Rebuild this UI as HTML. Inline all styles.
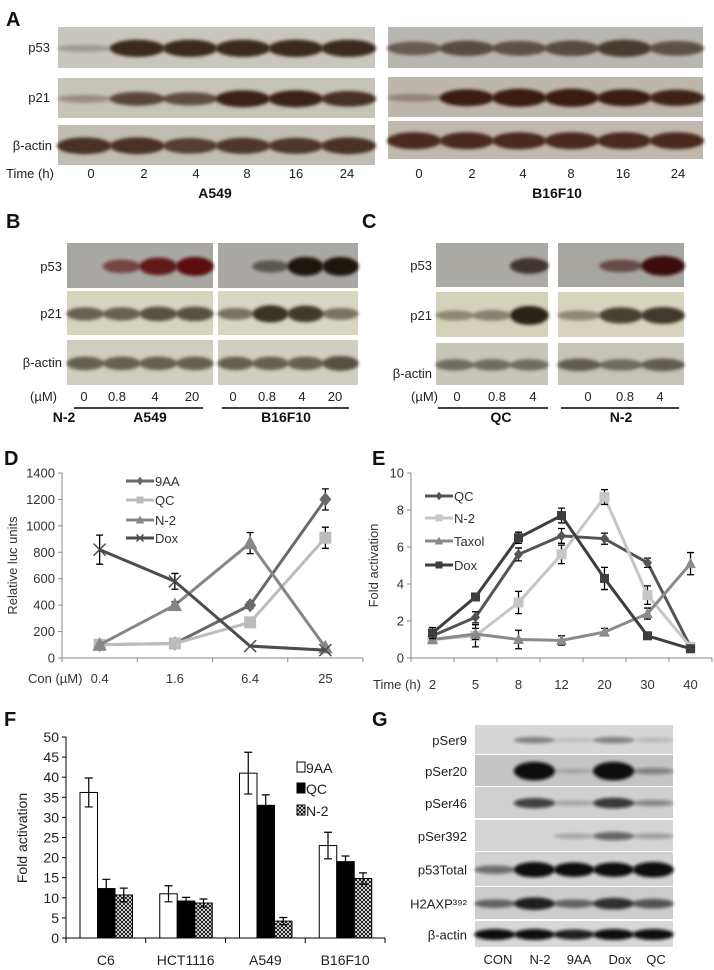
<!DOCTYPE html>
<html><head><meta charset="utf-8"><style>
html,body{margin:0;padding:0;background:#fff;}
svg{display:block;font-family:"Liberation Sans",Arial,sans-serif;}
.lbl{font-size:13px;fill:#222;}
.tk{font-size:13px;fill:#333;}
.big{font-size:20px;font-weight:bold;fill:#111;}
.bold{font-size:14px;font-weight:bold;fill:#111;}
</style></head><body>
<svg id="fig" width="714" height="970" viewBox="0 0 714 970" xmlns="http://www.w3.org/2000/svg">
<defs>
<filter id="blur" x="-20%" y="-50%" width="140%" height="200%"><feGaussianBlur stdDeviation="1.6"/></filter>
<pattern id="hatch" width="4" height="4" patternUnits="userSpaceOnUse"><rect width="4" height="4" fill="#fff"/><path d="M0,0L4,4M4,0L0,4" stroke="#000" stroke-width="0.9"/></pattern>
</defs>
<g id="blots"></g>
<g id="chartD"></g>
<g id="chartE"></g>
<g id="chartF"></g>
</svg>
<script>
// ---------- Chart D data ----------
const dCats = ["0.4","1.6","6.4","25"];
const dNames = ["9AA","QC","N-2","Dox"];
const d9AA = [100,110,400,1200];
const dQC = [100,110,270,910];
const dN2 = [100,400,870,80];
const dDox = [820,580,90,60];
const dErr9AA = [0,0,25,80];
const dErrQC = [0,0,0,80];
const dErrN2 = [0,25,80,0];
const dErrDox = [110,60,0,0];
const dTicks = [0,200,400,600,800,1000,1200,1400];
// ---------- Chart E data ----------
const eCats = ["2","5","8","12","20","30","40"];
const eNames = ["QC","N-2","Taxol","Dox"];
const eQC = [1.2,2.2,5.6,6.6,6.45,5.15,0.6];
const eN2 = [1.0,1.2,3.0,5.6,8.7,3.4,0.6];
const eTaxol = [1.0,1.3,1.0,0.95,1.4,2.4,5.1];
const eDox = [1.35,3.3,6.5,7.7,4.3,1.2,0.5];
const eErrQC = [0.2,0.3,0.35,0.4,0.3,0.25,0.1];
const eErrN2 = [0.2,0.6,0.6,0.5,0.4,0.5,0.1];
const eErrTaxol = [0.2,0.3,0.5,0.25,0.2,0.3,0.6];
const eErrDox = [0.3,0.2,0.3,0.4,0.6,0.1,0.1];
const eTicks = [0,2,4,6,8,10];
// ---------- Chart F data ----------
const fCats = ["C6","HCT1116","A549","B16F10"];
const fNames = ["9AA","QC","N-2"];
const f9AA = [36.2,11,41,23];
const fQC = [12.3,9.2,33,19];
const fN2 = [10.7,8.7,4.2,14.8];
const fErr9AA = [3.6,2,5.2,3.3];
const fErrQC = [2.3,0.9,2.6,1.4];
const fErrN2 = [1.7,1,0.9,1.4];
const fTicks = [0,5,10,15,20,25,30,35,40,45,50];

const NS="http://www.w3.org/2000/svg";
function mk(parent,tag,attrs,text){const e=document.createElementNS(NS,tag);for(const k in attrs)e.setAttribute(k,attrs[k]);if(text!==undefined)e.textContent=text;parent.appendChild(e);return e;}

// ---------- Blots ----------
const B=document.getElementById('blots');
function blot(x,y,w,h,bg,bands,color,name){
  const g=mk(B,'g',{});
  
  
  mk(g,'rect',{x:x,y:y,width:w,height:h,fill:bg});
  const n=bands.length, lw=w/n;
  bands.forEach((v,i)=>{ if(v<=0)return;
    const cx=x+lw*(i+0.5), cy=y+h*0.52;
    mk(g,'ellipse',{cx:cx,cy:cy,rx:lw*0.52,ry:Math.max(2,h*(0.06+0.15*v)),fill:color,opacity:Math.min(1,0.1+0.9*v),filter:'url(#blur)'});
  });
}
function text(x,y,t,cls,anchor,name){const e=mk(B,'text',{x:x,y:y,class:cls||'lbl','text-anchor':anchor||'start'},t);return e;}
// Panel A
text(6,26,'A','big','start','panel-a-letter');
blot(58,27,317,41,'#c9c6bf',[0.2,1,1,1,1,1],'#3a2a1e','a549-p53-blot');
blot(58,78,317,40,'#c6c3b8',[0.25,0.75,0.7,1,1,0.9],'#3a2214','a549-p21-blot');
blot(58,125,317,40,'#c1bdb5',[1,1,0.9,0.95,0.95,1],'#4a3222','a549-actin-blot');
blot(388,27,315,41,'#b8b6b0',[0.7,0.85,0.8,0.85,1,0.8],'#4a3a30','b16-p53-blot');
blot(388,77,315,40,'#bcb6ac',[0.25,1,1.1,1.1,1,0.95],'#3a1a10','b16-p21-blot');
blot(388,121,315,38,'#c0b8ac',[1.1,1.1,1.1,1.1,1.1,1.1],'#4a2c1e','b16-actin-blot');
text(50,52,'p53','lbl','end');text(50,102,'p21','lbl','end');text(52,150,'β-actin','lbl','end');
text(6,178,'Time (h)','lbl');
['0','2','4','8','16','24'].forEach((t,i)=>{text([91,144,196,247,296,347][i],178,t,'lbl','middle','time-label');text([419,472,523,571,623,678][i],178,t,'lbl','middle','time-label');});
text(215,198,'A549','bold','middle','a549-title');text(557,198,'B16F10','bold','middle','b16f10-title');
// Panel B
text(6,228,'B','big','start','panel-b-letter');
blot(67,243,146,45,'#a8a7a3',[0,0.6,0.9,1],'#5a0a08','b-a549-p53');
blot(218,243,140,45,'#a9a8a4',[0,0.5,1,1],'#1a1210','b-b16-p53');
blot(67,291,146,44,'#d6d4bd',[0.6,0.6,0.7,0.7],'#2a2418','b-a549-p21');
blot(218,291,140,44,'#d8d6c0',[0.5,0.9,0.85,0.5],'#2a2418','b-b16-p21');
blot(67,340,146,45,'#cfcdbf',[0.6,0.6,0.6,0.6],'#2a2016','b-a549-actin');
blot(218,340,140,45,'#d0cec0',[0.6,0.6,0.6,0.7],'#2a2016','b-b16-actin');
text(62,271,'p53','lbl','end');text(62,318,'p21','lbl','end');text(62,367,'β-actin','lbl','end');
text(30,401,'(µM)','lbl');
['0','0.8','4','20','0','0.8','4','20'].forEach((t,i)=>text([84,117,155,192,233,267,302,335][i],401,t,'lbl','middle','dose-label'));
mk(B,'line',{x1:74,y1:408,x2:203,y2:408,stroke:'#000','stroke-width':1.5});
mk(B,'line',{x1:222,y1:408,x2:349,y2:408,stroke:'#000','stroke-width':1.5});
text(64,422,'N-2','bold','middle');text(150,422,'A549','bold','middle');text(286,422,'B16F10','bold','middle');
// Panel C
text(362,228,'C','big','start','panel-c-letter');
blot(436,243,112,44,'#abaaa5',[0,0,0.8],'#2a1a14','c-qc-p53');
blot(558,243,126,44,'#a7a5a0',[0,0.55,1.1],'#3a0c08','c-n2-p53');
blot(436,292,112,45,'#d4d2ba',[0.35,0.4,1],'#2a2418','c-qc-p21');
blot(558,292,126,45,'#d6d4bc',[0.35,0.8,0.85],'#2a2418','c-n2-p21');
blot(436,343,112,42,'#c8c6bb',[0.5,0.5,0.5],'#2a2016','c-qc-actin');
blot(558,343,126,42,'#c6c4b9',[0.6,0.5,0.6],'#2a2016','c-n2-actin');
text(432,270,'p53','lbl','end');text(432,320,'p21','lbl','end');text(432,378,'β-actin','lbl','end');
text(411,401,'(µM)','lbl');
['0','0.8','4','0','0.8','4'].forEach((t,i)=>text([457,497,533,588,625,660][i],401,t,'lbl','middle','dose-label'));
mk(B,'line',{x1:438,y1:408,x2:548,y2:408,stroke:'#000','stroke-width':1.5});
mk(B,'line',{x1:561,y1:408,x2:679,y2:408,stroke:'#000','stroke-width':1.5});
text(501,422,'QC','bold','middle');text(621,422,'N-2','bold','middle');
// Panel G
text(372,726,'G','big','start','panel-g-letter');
const gRows=[['pSer9',725,755,'#d6d6d6',[0,0.35,0.05,0.35,0.08]],['pSer20',755,787,'#c4c4c4',[0,1.6,0.1,1.6,0.3]],['pSer46',787,819,'#d0d0d0',[0,0.7,0.15,0.75,0.3]],['pSer392',820,852,'#d4d4d4',[0,0,0.15,0.5,0.2]],['p53Total',852,887,'#d2d2d2',[0.45,1.1,1,1,1.1]],['H2AXP³⁹²',887,920,'#cccccc',[0.5,0.9,0.5,0.8,0.6]],['β-actin',921,948,'#d8d8d8',[1,1,0.9,1,1]]];
gRows.forEach(r=>{blot(475,r[1],198,r[2]-r[1]-1,r[3],r[4],'#0a0a0a','g-blot-'+r[0]);text(467,(r[1]+r[2])/2+5,r[0],'lbl','end','g-row-label');});
['CON','N-2','9AA','Dox','QC'].forEach((t,i)=>text([498,540,579,620,656][i],964,t,'lbl','middle','g-lane-label'));

// ---------- generic line chart ----------
function lineChart(gid,opt){
  const G=document.getElementById(gid);
  const yS=v=>opt.y0-(v-opt.ymin)/(opt.ymax-opt.ymin)*(opt.y0-opt.y1);
  const xS=i=>opt.xl+(i+0.5)*(opt.xr-opt.xl)/opt.cats.length;
  mk(G,'line',{x1:opt.xl,y1:opt.y0,x2:opt.xl,y2:opt.y1,stroke:'#888'});
  mk(G,'line',{x1:opt.xl,y1:opt.y0,x2:opt.xr,y2:opt.y0,stroke:'#888'});
  opt.ticks.forEach(t=>{const y=yS(t);mk(G,'line',{x1:opt.xl-4,y1:y,x2:opt.xl,y2:y,stroke:'#888'});
    const e=mk(G,'text',{x:opt.xl-7,y:y+4.5,class:'tk','text-anchor':'end'},t);});
  for(let i=0;i<=opt.cats.length;i++){const x=opt.xl+i*(opt.xr-opt.xl)/opt.cats.length;mk(G,'line',{x1:x,y1:opt.y0,x2:x,y2:opt.y0+4,stroke:'#888'});}
  opt.cats.forEach((c,i)=>{const e=mk(G,'text',{x:xS(i),y:opt.labY,class:'tk','text-anchor':'middle'},c);});
  opt.series.forEach((s,si)=>{
    const sg=mk(G,'g',{});
    
    
    const pts=s.vals.map((v,i)=>xS(i)+','+yS(v)).join(' ');
    mk(sg,'polyline',{points:pts,fill:'none',stroke:s.color,'stroke-width':3});
    s.vals.forEach((v,i)=>{const x=xS(i),y=yS(v),e=s.err[i];
      if(e>0){mk(sg,'path',{d:`M${x},${yS(v-e)}V${yS(v+e)}M${x-3.5},${yS(v-e)}h7M${x-3.5},${yS(v+e)}h7`,stroke:'#000','stroke-width':1.3,fill:'none'});}
      marker(sg,s.marker,x,y,s.color,s.msize||5);
    });
    const ly=opt.legY[si];
    mk(sg,'line',{x1:opt.legX,y1:ly,x2:opt.legX+28,y2:ly,stroke:s.color,'stroke-width':3});
    marker(sg,s.marker,opt.legX+14,ly,s.color,3.5);
    const t=mk(sg,'text',{x:opt.legX+29,y:ly+5,class:'tk'},s.name);
  });
  const yl=mk(G,'text',{x:0,y:0,class:'tk','text-anchor':'middle',transform:`translate(${opt.ylx},${(opt.y0+opt.y1)/2}) rotate(-90)`},opt.ytitle);
  
  const xl=mk(G,'text',{x:opt.xtx,y:opt.labY,class:'tk'},opt.xtitle);
  
  const L=mk(G,'text',{x:opt.letX,y:opt.letY,class:'big'},opt.letter);
  
}
function marker(g,type,x,y,c,r){
  if(type==='diamond')mk(g,'path',{d:`M${x},${y-r*1.2}L${x+r},${y}L${x},${y+r*1.2}L${x-r},${y}Z`,fill:c});
  else if(type==='square')mk(g,'rect',{x:x-r,y:y-r,width:2*r,height:2*r,fill:c});
  else if(type==='tri')mk(g,'path',{d:`M${x},${y-r*1.3}L${x+r*1.2},${y+r}L${x-r*1.2},${y+r}Z`,fill:c});
  else if(type==='x')mk(g,'path',{d:`M${x-r},${y-r}L${x+r},${y+r}M${x+r},${y-r}L${x-r},${y+r}`,stroke:c,'stroke-width':1.5});
}
lineChart('chartD',{cats:dCats,ticks:dTicks,ymin:0,ymax:1400,xl:62,xr:363,y0:658,y1:473,labY:683,
  series:[{name:dNames[0],vals:d9AA,err:dErr9AA,color:'#6a6a6a',marker:'diamond',msize:6},
          {name:dNames[1],vals:dQC,err:dErrQC,color:'#bcbcbc',marker:'square',msize:6},
          {name:dNames[2],vals:dN2,err:dErrN2,color:'#868686',marker:'tri',msize:6},
          {name:dNames[3],vals:dDox,err:dErrDox,color:'#4c4c4c',marker:'x',msize:6}],
  legX:126,legY:[481,500,520,538],ytitle:'Relative luc units',ylx:17,xtitle:'Con (µM)',xtx:28,letter:'D',letX:4,letY:465});
lineChart('chartE',{cats:eCats,ticks:eTicks,ymin:0,ymax:10,xl:411,xr:712,y0:658,y1:473,labY:689,
  series:[{name:eNames[0],vals:eQC,err:eErrQC,color:'#555555',marker:'diamond',msize:4.5},
          {name:eNames[1],vals:eN2,err:eErrN2,color:'#c6c6c6',marker:'square',msize:5},
          {name:eNames[2],vals:eTaxol,err:eErrTaxol,color:'#8a8a8a',marker:'tri',msize:4.5},
          {name:eNames[3],vals:eDox,err:eErrDox,color:'#3e3e3e',marker:'square',msize:4.5}],
  legX:425,legY:[496,518,541,565],ytitle:'Fold activation',ylx:378,xtitle:'Time (h)',xtx:373,letter:'E',letX:372,letY:465});

// ---------- Chart F ----------
(function(){
  const G=document.getElementById('chartF');
  const xl=66,xr=385,y0=938,y1=737,ymax=50;
  const yS=v=>y0-v/ymax*(y0-y1);
  const gw=(xr-xl)/fCats.length,bw=17.5;
  mk(G,'line',{x1:xl,y1:y0,x2:xl,y2:y1,stroke:'#000'});
  mk(G,'line',{x1:xl,y1:y0,x2:xr,y2:y0,stroke:'#000'});
  fTicks.forEach(t=>{const y=yS(t);mk(G,'line',{x1:xl-4,y1:y,x2:xl,y2:y,stroke:'#000'});
    const e=mk(G,'text',{x:xl-7,y:y+5,class:'lbl','text-anchor':'end'},t);});
  for(let i=0;i<=fCats.length;i++){const x=xl+i*gw;mk(G,'line',{x1:x,y1:y0,x2:x,y2:y0+5,stroke:'#000'});}
  const series=[[f9AA,fErr9AA,'#fff'],[fQC,fErrQC,'#000'],[fN2,fErrN2,'url(#hatch)']];
  fCats.forEach((c,i)=>{
    const t=mk(G,'text',{x:xl+i*gw+gw/2,y:965,class:'lbl','text-anchor':'middle'},c);
    series.forEach((s,si)=>{
      const x=xl+i*gw+14+si*bw,v=s[0][i],e=s[1][i];
      const r=mk(G,'rect',{x:x,y:yS(v),width:bw,height:y0-yS(v),fill:s[2],stroke:'#000','stroke-width':1});
      
      
      const cx=x+bw/2;
      mk(G,'path',{d:`M${cx},${yS(v-e)}V${yS(v+e)}M${cx-4},${yS(v-e)}h8M${cx-4},${yS(v+e)}h8`,stroke:'#000','stroke-width':1.2,fill:'none'});
    });
  });
  const fills=['#fff','#000','url(#hatch)'];
  fNames.forEach((n,i)=>{const y=[773,794,816][i];
    mk(G,'rect',{x:297,y:y-11,width:8,height:10,fill:fills[i],stroke:'#000'});
    const t=mk(G,'text',{x:306,y:y,class:'lbl'},n);});
  const yl=mk(G,'text',{x:0,y:0,class:'lbl','text-anchor':'middle',transform:`translate(27,838) rotate(-90)`},'Fold activation');
  
  const L=mk(G,'text',{x:4,y:726,class:'big'},'F');
  G.querySelectorAll('.lbl').forEach(t=>t.style.fontSize='14px');
})();
</script>
</body></html>
